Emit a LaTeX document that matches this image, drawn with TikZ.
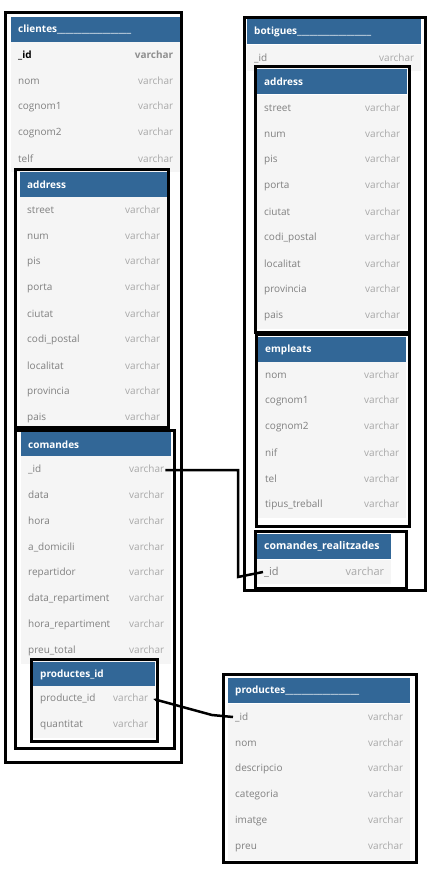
\documentclass[tikz,border=0pt]{standalone}
\usepackage{fontspec}
\setmainfont{Open Sans}
\usetikzlibrary{arrows.meta}
\definecolor{hdrblue}{RGB}{50,103,151}
\definecolor{rowbg}{RGB}{245,245,245}
\definecolor{fieldgray}{RGB}{128,128,128}
\definecolor{typgray}{RGB}{168,168,168}
\newcommand{\vc}{\hfill\textcolor{typgray}{varchar}}
\newcommand{\uline}{\_\_\_\_\_\_\_\_\_\_\_\_\_\_\_\_\_\_}

\begin{document}
\begin{tikzpicture}[x=1pt,y=-1pt,
    font=\fontsize{10}{12}\selectfont,
    hdr/.style={anchor=north west, fill=hdrblue, text=white, font=\fontsize{10}{12}\selectfont\bfseries,
        minimum height=25pt, inner xsep=7pt, inner ysep=0pt, text width=#1, align=left},
    row/.style={anchor=west, fill=rowbg, text=fieldgray, minimum height=26pt,
        inner xsep=7pt, inner ysep=0pt, text width=#1, align=left},
    frame/.style={line width=3pt},
    link/.style={line width=2.5pt}]
\useasboundingbox[fill=white] (0,0) rectangle (440,873);

% clientes
\node[hdr=155] (cli) at (11,17) {clientes\uline};
\node[row=155] (cli-id) at (11,55) {\textcolor{black}{\bfseries\_id}\hfill{\bfseries\textcolor{typgray!85!black}{varchar}}};
\node[row=155] (cli-nom) at (11,81) {nom\vc};
\node[row=155] (cli-cg1) at (11,107) {cognom1\vc};
\node[row=155] (cli-cg2) at (11,133) {cognom2\vc};
\node[row=155] (cli-telf) at (11,159) {telf\vc};

\node[hdr=136] (cad) at (20,172) {address};
\node[row=133] (cad-1) at (20,210) {street\vc};
\node[row=133] (cad-2) at (20,236) {num\vc};
\node[row=133] (cad-3) at (20,262) {pis\vc};
\node[row=133] (cad-4) at (20,288) {porta\vc};
\node[row=133] (cad-5) at (20,314) {ciutat\vc};
\node[row=133] (cad-6) at (20,340) {codi\_postal\vc};
\node[row=133] (cad-7) at (20,366) {localitat\vc};
\node[row=133] (cad-8) at (20,392) {provincia\vc};
\node[row=133] (cad-9) at (20,418) {pais\vc};

\node[hdr=136] (com) at (21,432) {comandes};
\node[row=136] (com-id) at (21,469) {\_id\vc};
\node[row=136] (com-2) at (21,495) {data\vc};
\node[row=136] (com-3) at (21,521) {hora\vc};
\node[row=136] (com-4) at (21,547) {a\_domicili\vc};
\node[row=136] (com-5) at (21,573) {repartidor\vc};
\node[row=136] (com-6) at (21,599) {data\_repartiment\vc};
\node[row=136] (com-7) at (21,625) {hora\_repartiment\vc};
\node[row=136] (com-8) at (21,651) {preu\_total\vc};

\node[hdr=108] (pid) at (33,662) {productes\_id};
\node[row=108] (pid-prod) at (33,699) {producte\_id\vc};
\node[row=108] (pid-qt) at (33,725) {quantitat\vc};

% botigues
\node[hdr=160] (bot) at (247,19) {botigues\uline};
\node[row=160] (bot-id) at (247,58) {\_id\vc};

\node[hdr=136] (bad) at (257,69) {address};
\node[row=136] (bad-1) at (257,108) {street\vc};
\node[row=136] (bad-2) at (257,134) {num\vc};
\node[row=136] (bad-3) at (257,160) {pis\vc};
\node[row=136] (bad-4) at (257,186) {porta\vc};
\node[row=136] (bad-5) at (257,212) {ciutat\vc};
\node[row=136] (bad-6) at (257,238) {codi\_postal\vc};
\node[row=136] (bad-7) at (257,264) {localitat\vc};
\node[row=136] (bad-8) at (257,290) {provincia\vc};
\node[row=136] (bad-9) at (257,316) {pais\vc};

\node[hdr=134] (emp) at (258,337) {empleats};
\node[row=134] (emp-1) at (258,375) {nom\vc};
\node[row=134] (emp-2) at (258,401) {cognom1\vc};
\node[row=134] (emp-3) at (258,427) {cognom2\vc};
\node[row=134] (emp-4) at (258,453) {nif\vc};
\node[row=134] (emp-5) at (258,479) {tel\vc};
\node[row=134] (emp-6) at (258,505) {tipus\_treball\vc};

\node[hdr=120, font=\fontsize{10.5}{12}\selectfont\bfseries] (rea) at (257,534) {comandes\_realitzades};
\node[row=120, minimum height=24pt, font=\fontsize{11}{13}\selectfont] (rea-id) at (257,572) {\_id\vc};

% productes
\node[hdr=168] (pro) at (228,678) {productes\uline};
\node[row=168] (pro-id) at (228,717) {\_id\vc};
\node[row=168] (pro-2) at (228,743) {nom\vc};
\node[row=168] (pro-3) at (228,769) {descripcio\vc};
\node[row=168] (pro-4) at (228,795) {categoria\vc};
\node[row=168] (pro-5) at (228,821) {imatge\vc};
\node[row=168] (pro-6) at (228,847) {preu\vc};

% frames
\draw[frame] (5,12) rectangle (181,762);
\draw[frame] (15,169) rectangle (168,427);
\draw[frame] (15,430) rectangle (174,748);
\draw[frame] (31,659) rectangle (157,741);
\draw[frame] (244,17) rectangle (425,590);
\draw[frame] (255,66) rectangle (409,332);
\draw[frame] (256,334) rectangle (409,526);
\draw[frame] (255,531) rectangle (406,588);
\draw[frame] (223,674) rectangle (416,862);

% links
\draw[link] ([xshift=-6pt,yshift=-1pt]com-id.east) -| (238,577) -- ([xshift=6pt]rea-id.west);
\draw[link, {Stealth[length=4pt,width=4pt]}-] ([xshift=-2pt]pid-prod.east) -- (212,715) -- ([xshift=5pt]pro-id.west);
\end{tikzpicture}
\end{document}
